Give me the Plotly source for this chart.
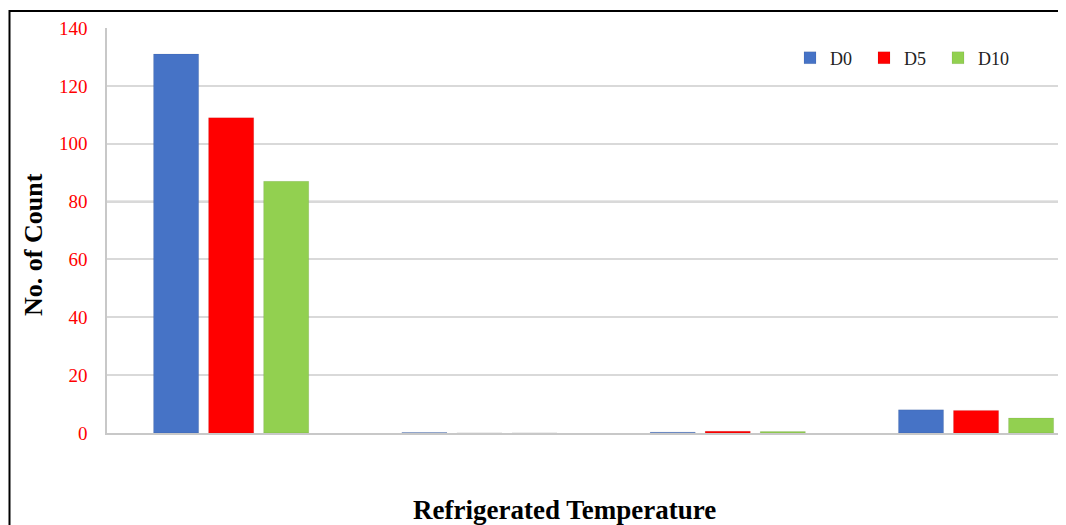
import plotly.graph_objects as go

categories = ["T1", "T2", "T3", "T4"]
series_names = ["D0", "D5", "D10"]
d0 = [131, 0.15, 0.3, 8.0]
d5 = [109, 0.0, 0.6, 7.8]
d10 = [87, 0.0, 0.5, 5.2]
y_ticks = [0, 20, 40, 60, 80, 100, 120, 140]

colors = ["#4673C6", "#FF0000", "#92D050"]

fig = go.Figure()
for name, vals, col in zip(series_names, [d0, d5, d10], colors):
    fig.add_trace(go.Bar(
        x=categories, y=vals, name=name,
        marker=dict(color=col, line=dict(width=0.6, color="rgba(0,0,0,0.12)")),
    ))

# page body has an 8px margin: work in reference pixels, shifted by 8
OFF = 8
W, H = 1066 - OFF, 525 - OFF
L, R, T, B = 107 - OFF, 0, 28 - OFF, 92
pw = W - L - R
ph = H - T - B

def px(xr):
    return (xr - OFF - L) / pw

def py(yr):
    return (H - B - (yr - OFF)) / ph

fig.update_layout(
    width=W, height=H,
    margin=dict(l=L, r=R, t=T, b=B),
    paper_bgcolor="white", plot_bgcolor="white",
    barmode="group", bargap=0.335, bargroupgap=0.18,
    font=dict(family="Liberation Serif", color="black"),
    legend=dict(
        orientation="h", x=px(790), y=py(58),
        xanchor="left", yanchor="middle",
        font=dict(family="Liberation Serif", size=18, color="#222"),
        bgcolor="rgba(0,0,0,0)", entrywidth=29, entrywidthmode="pixels",
        tracegroupgap=0,
    ),
    xaxis=dict(
        range=[-0.5, -0.5 + pw / 248.3],
        showticklabels=False, ticks="",
        showline=True, linecolor="#c8c8c8", linewidth=1.5,
        showgrid=False, zeroline=False,
    ),
    yaxis=dict(
        range=[0, 140], tickvals=y_ticks,
        tickfont=dict(family="Liberation Serif", size=19, color="#FF0000"),
        showgrid=True, gridcolor="#d9d9d9", gridwidth=1.5,
        showline=True, linecolor="#c8c8c8", linewidth=1.5,
        zeroline=False, ticks="", ticklabelstandoff=14,
    ),
    annotations=[
        dict(text="<b>No. of Count</b>", xref="paper", yref="paper",
             x=px(33), y=py(245), textangle=-90,
             showarrow=False, font=dict(family="Liberation Serif", size=26, color="black"),
             xanchor="center", yanchor="middle"),
        dict(text="<b>Refrigerated Temperature</b>", xref="paper", yref="paper",
             x=px(564), y=py(510),
             showarrow=False, font=dict(family="Liberation Serif", size=27, color="black"),
             xanchor="center", yanchor="middle"),
    ],
    shapes=[
        dict(type="line", xref="paper", yref="y", x0=0, x1=1, y0=80, y1=80,
             line=dict(color="#9a9a9a", width=1.5), layer="below"),
        dict(type="rect", xref="paper", yref="paper",
             x0=px(9.5), x1=px(1090),
             y0=py(560), y1=py(11),
             line=dict(color="black", width=2), fillcolor="rgba(0,0,0,0)", layer="above"),
    ],
)

fig.write_html("out.html")
